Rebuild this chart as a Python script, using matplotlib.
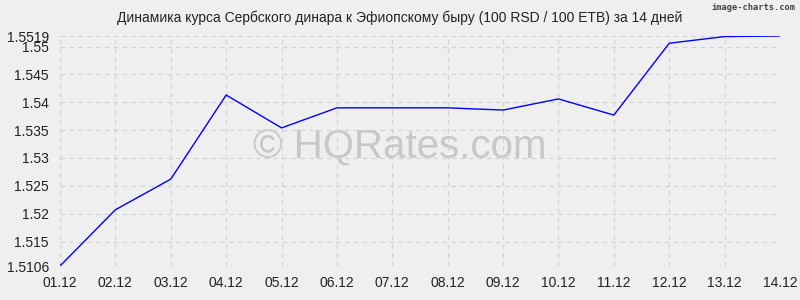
import matplotlib.pyplot as plt

# курс RSD/ETB за 14 дней
dates = ['01.12', '02.12', '03.12', '04.12', '05.12', '06.12', '07.12',
         '08.12', '09.12', '10.12', '11.12', '12.12', '13.12', '14.12']
rates = [1.5106, 1.5207, 1.5262, 1.5413, 1.5354, 1.5390, 1.5390,
         1.5390, 1.5386, 1.5406, 1.5377, 1.5506, 1.5518, 1.5519]
y_ticks = [1.5106, 1.515, 1.52, 1.525, 1.53, 1.535, 1.54, 1.545, 1.55, 1.5519]
y_labels = ['1.5106', '1.515', '1.52', '1.525', '1.53', '1.535', '1.54', '1.545', '1.55', '1.5519']

plt.rcParams['font.family'] = ['Liberation Sans', 'DejaVu Sans']

fig = plt.figure(figsize=(8, 3), dpi=100, facecolor='#efefef')
ax = fig.add_axes([0.075, 0.1133, 0.9, 0.7667])
ax.set_facecolor('#efefef')

x = list(range(len(dates)))
ax.plot(x, rates, color='#0000ff', linewidth=1)

ax.set_xlim(0, len(dates) - 1)
ax.set_ylim(1.5106, 1.5519)
ax.set_xticks(x)
ax.set_xticklabels(dates)
ax.set_yticks(y_ticks)
ax.set_yticklabels(y_labels)
ax.tick_params(length=0, labelsize=10, colors='#222222', pad=7)
ax.tick_params(axis='y', pad=8)
for s in ax.spines.values():
    s.set_visible(False)
ax.grid(True, color='#d0d0d0', linestyle=(0, (4, 4)), linewidth=0.8)

ax.text(0.472, 0.517, '© HQRates.com', transform=ax.transAxes, ha='center', va='center',
        fontsize=29, color='#c8c8c8', zorder=0)

fig.text(0.5, 0.94, 'Динамика курса Сербского динара к Эфиопскому быру (100 RSD / 100 ETB) за 14 дней',
         ha='center', va='center', fontsize=10, color='#222222')
fig.text(0.994, 0.975, 'image-charts.com', ha='right', va='center', fontsize=6.3,
         color='#444444', family=['DejaVu Sans Mono'], weight='bold')

fig.savefig('out.png', dpi=100, facecolor=fig.get_facecolor())
